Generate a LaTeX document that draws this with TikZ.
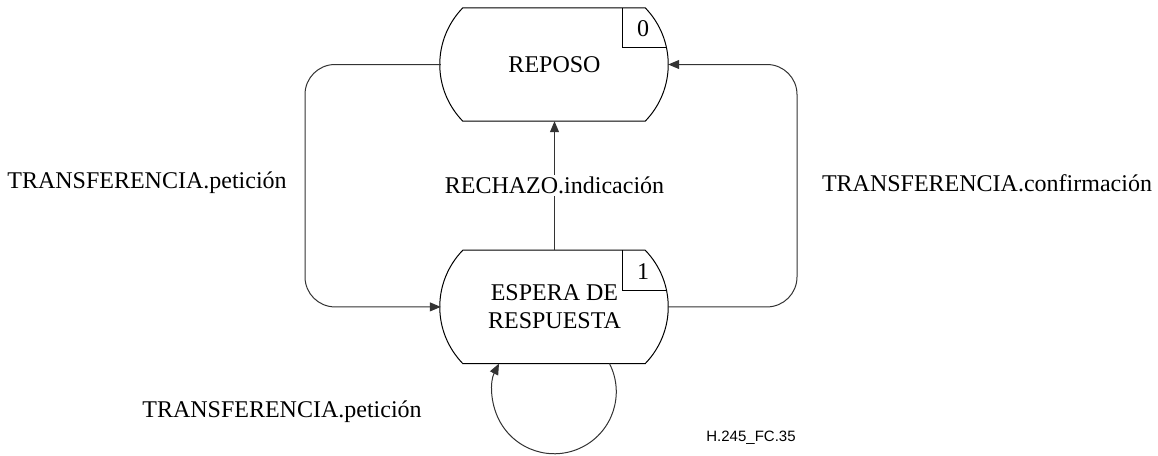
\documentclass[tikz,border=0pt]{standalone}
\usepackage{fontspec}
\setmainfont{Liberation Serif}
\setsansfont{Liberation Sans}
\usetikzlibrary{arrows.meta,positioning}

\begin{document}
\begin{tikzpicture}[
    x=1pt, y=1pt,
    every node/.style={font=\fontsize{24}{28}\selectfont},
    statebox/.style={minimum width=227pt, minimum height=113pt, inner sep=0pt, align=center},
    outline/.style={line width=1pt},
    flow/.style={-{Triangle[length=11pt, width=9pt]}, line width=1pt, draw=black!80},
    lbl/.style={inner sep=2pt},
    tag/.style={font=\sffamily\fontsize{15}{18}\selectfont}
]
\useasboundingbox (0,0) rectangle (1158,-455);
% states
\node[statebox] (reposo) at (554.5,-64.5) {REPOSO};
\node[statebox, below=129pt of reposo] (espera) {ESPERA DE\\RESPUESTA};
\foreach \s/\n in {reposo/0, espera/1} {
  \draw[outline] ([xshift=22]\s.north west) -- ([xshift=-23]\s.north east)
    to[bend left=44] ([xshift=-23]\s.south east) -- ([xshift=22]\s.south west)
    to[bend left=44] cycle;
  \draw[outline] ([xshift=-46]\s.north east) |- ([xshift=-2,yshift=-40]\s.north east);
  \node at ([xshift=-25,yshift=-21]\s.north east) {\n};
}
% bend points
\coordinate (lx) at (305,0);
\coordinate (rx) at (797,0);
% transitions
\draw[flow, rounded corners=30pt] (reposo.west) -- (reposo.west -| lx) -- (espera.west -| lx) -- (espera.west);
\draw[flow, rounded corners=30pt] (espera.east) -- (espera.east -| rx) -- (reposo.east -| rx) -- (reposo.east);
\draw[flow] (espera.north) -- node[lbl, fill=white] (rechazo) {RECHAZO.indicación} (reposo.south);
\draw[flow] ([xshift=55]espera.south) arc[start angle=27, end angle=-207, radius=62];
% labels
\node[lbl] (peticion) at (147,-183) {TRANSFERENCIA.petición};
\node[lbl] (confirmacion) at (987,-183) {TRANSFERENCIA.confirmación};
\node[lbl] (autopeticion) at (282,-412) {TRANSFERENCIA.petición};
\node[tag] (figtag) at (751,-438) {H.245\_FC.35};
\end{tikzpicture}
\end{document}
